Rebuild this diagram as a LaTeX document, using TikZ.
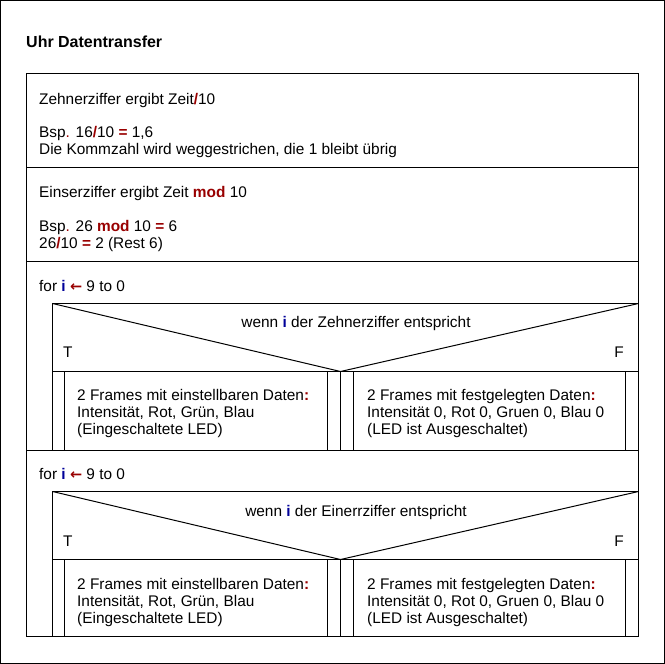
\documentclass[tikz,border=0pt]{standalone}
\usepackage{fontspec}
\setmainfont{Liberation Sans}
\newfontfamily\arrowfont{DejaVu Sans}
\definecolor{kwred}{HTML}{990000}
\definecolor{kwblue}{HTML}{000099}
\newcommand{\rd}[1]{\textcolor{kwred}{\textbf{#1}}}
\newcommand{\bl}[1]{\textcolor{kwblue}{\textbf{#1}}}
\newcommand{\larr}{\textcolor{kwred}{{\arrowfont\bfseries\fontsize{14.5}{17}\selectfont ←}}}
\begin{document}
\begin{tikzpicture}[x=1pt,y=-1pt,
  line/.style={draw=black,line width=1pt},
  txt/.style={anchor=base west,inner sep=0pt,font=\fontsize{15.4}{17}\selectfont},
  ttl/.style={anchor=base west,inner sep=0pt,font=\fontsize{16}{19}\selectfont\bfseries}]
\useasboundingbox (0,0) rectangle (665,664);
\fill[white] (0,0) rectangle (665,664);
% outer frame
\draw[line] (0.5,0.5) rectangle (664.5,663.5);
\node[ttl] (title) at (26,47) {Uhr Datentransfer};
% main box
\draw[line] (26.5,73.5) rectangle (638.5,636.5);
\draw[line] (26.5,167.5) -- (638.5,167.5);
\draw[line] (26.5,261.5) -- (638.5,261.5);
\draw[line] (26.5,450.5) -- (638.5,450.5);
% row 1
\node[txt] (r1a) at (39,104) {Zehnerziffer ergibt Zeit\rd{/}10};
\node[txt] (r1b) at (39,137) {Bsp\textcolor{kwred}{.} 16\rd{/}10 \rd{=} 1,6};
\node[txt] (r1c) at (39,154) {Die Kommzahl wird weggestrichen, die 1 bleibt übrig};
% row 2
\node[txt] (r2a) at (39,197) {Einserziffer ergibt Zeit \rd{mod} 10};
\node[txt] (r2b) at (39,231) {Bsp\textcolor{kwred}{.} 26 \rd{mod} 10 \rd{=} 6};
\node[txt] (r2c) at (39,248) {26\rd{/}10 \rd{=} 2 (Rest 6)};
% loop 1
\node[txt] (for1) at (39,291) {for \bl{i} \larr{} 9 to 0};
\foreach \t/\m/\b in {303.5/371.5/450.5, 491.5/559.5/636.5}{
  \draw[line] (52.5,\b) -- (52.5,\t) -- (638.5,\t);
  \draw[line] (52.5,\t) -- (340.5,\m) -- (638.5,\t);
  \draw[line] (52.5,\m) -- (638.5,\m);
  \foreach \xx in {64.5,327.5,340.5,353.5,625.5}{
    \draw[line] (\xx,\m) -- (\xx,\b);
  }
}
\node[txt,anchor=base] (c1) at (356,327) {wenn \bl{i} der Zehnerziffer entspricht};
\node[txt] (t1) at (63,357) {T};
\node[txt,anchor=base east] (f1) at (624,357) {F};
\node[txt,align=left,anchor=north west] (b1t) at (77,389) {2 Frames mit einstellbaren Daten\rd{:}\\Intensität, Rot, Grün, Blau\\(Eingeschaltete LED)};
\node[txt,align=left,anchor=north west] (b1f) at (367,389) {2 Frames mit festgelegten Daten\rd{:}\\Intensität 0, Rot 0, Gruen 0, Blau 0\\(LED ist Ausgeschaltet)};
% loop 2
\node[txt] (for2) at (39,479) {for \bl{i} \larr{} 9 to 0};
\node[txt,anchor=base] (c2) at (356,516) {wenn \bl{i} der Einerrziffer entspricht};
\node[txt] (t2) at (63,546) {T};
\node[txt,anchor=base east] (f2) at (624,546) {F};
\node[txt,align=left,anchor=north west] (b2t) at (77,578) {2 Frames mit einstellbaren Daten\rd{:}\\Intensität, Rot, Grün, Blau\\(Eingeschaltete LED)};
\node[txt,align=left,anchor=north west] (b2f) at (367,578) {2 Frames mit festgelegten Daten\rd{:}\\Intensität 0, Rot 0, Gruen 0, Blau 0\\(LED ist Ausgeschaltet)};
\end{tikzpicture}
\end{document}
